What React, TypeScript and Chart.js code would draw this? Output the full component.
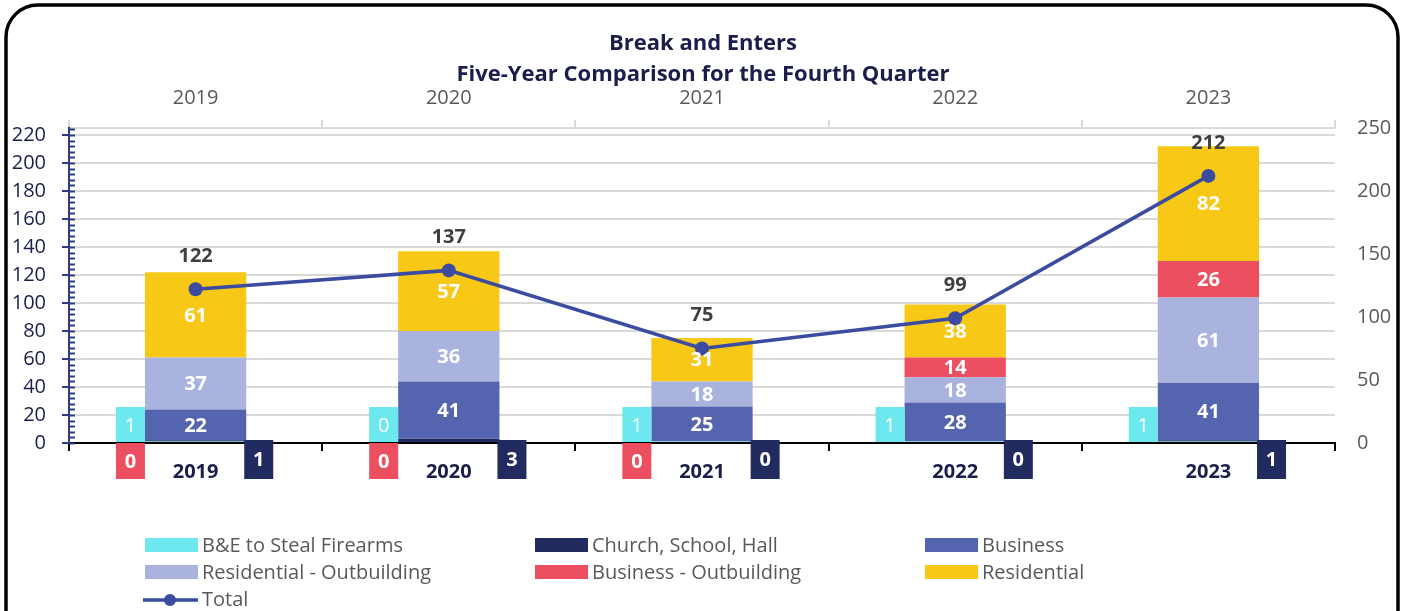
import React, { useEffect, useRef } from "react";
import { Chart, registerables } from "chart.js";

Chart.register(...registerables);

const years = ["2019", "2020", "2021", "2022", "2023"];
const firearms = [1, 0, 1, 1, 1];
const church = [1, 3, 0, 0, 1];
const business = [22, 41, 25, 28, 41];
const resOutbuilding = [37, 36, 18, 18, 61];
const busOutbuilding = [0, 0, 0, 14, 26];
const residential = [61, 57, 31, 38, 82];
const totals = [122, 137, 75, 99, 212];

const leftTicksMax = 225;
const rightTicksMax = 250;

const seriesNames = [
  "B&E to Steal Firearms",
  "Church, School, Hall",
  "Business",
  "Residential - Outbuilding",
  "Business - Outbuilding",
  "Residential",
  "Total",
];
const seriesColors = ["#6CE8EE", "#222B5F", "#5464AE", "#A9B3DE", "#EC4F5F", "#F7C815", "#3A4BA0"];

const FONT = '"Open Sans", Lato, sans-serif';
const NAVY_TEXT = "#1B1E4B";
const GRAY_TEXT = "#595959";

const overlayPlugin = {
  id: "overlay",
  afterDatasetsDraw(chart: any) {
    const ctx = chart.ctx as CanvasRenderingContext2D;
    const ca = chart.chartArea;
    const yScale = chart.scales.y;
    ctx.save();

    // left axis minor / inside ticks
    ctx.strokeStyle = "#2E3B80";
    for (let v = 0; v <= leftTicksMax; v += 4) {
      const y = Math.round(yScale.getPixelForValue(v)) + 0.5;
      ctx.lineWidth = 2;
      ctx.beginPath();
      ctx.moveTo(ca.left, y);
      ctx.lineTo(ca.left + 6, y);
      ctx.stroke();
    }

    // value labels inside bars
    ctx.textAlign = "center";
    ctx.textBaseline = "middle";
    ctx.font = `bold 20px ${FONT}`;
    ctx.fillStyle = "#FFFFFF";
    [2, 3, 4, 5].forEach((di) => {
      const meta = chart.getDatasetMeta(di);
      const data = chart.data.datasets[di].data as number[];
      meta.data.forEach((el: any, i: number) => {
        if (data[i] > 0) {
          ctx.fillText(String(data[i]), el.x, (el.y + el.base) / 2 + 1);
        }
      });
    });

    // boxed labels for small series
    const base = yScale.getPixelForValue(0);
    const barMeta = chart.getDatasetMeta(2);
    barMeta.data.forEach((el: any, i: number) => {
      const left = el.x - el.width / 2;
      const right = el.x + el.width / 2;
      // firearms (cyan) left of the bar, above the axis
      ctx.fillStyle = seriesColors[0];
      ctx.fillRect(left - 29, base - 36, 29, 35);
      ctx.fillStyle = "#FFFFFF";
      ctx.font = `20px ${FONT}`;
      ctx.fillText(String(firearms[i]), left - 14.5, base - 17);
      // business outbuilding zero: red box below axis
      if (busOutbuilding[i] === 0) {
        ctx.fillStyle = seriesColors[4];
        ctx.fillRect(left - 29, base, 29, 36);
        ctx.fillStyle = "#FFFFFF";
        ctx.font = `bold 20px ${FONT}`;
        ctx.fillText(String(busOutbuilding[i]), left - 14.5, base + 19);
      }
      // church: navy box right of the bar
      ctx.fillStyle = seriesColors[1];
      ctx.fillRect(right - 2, base - 3, 29, 39);
      ctx.fillStyle = "#FFFFFF";
      ctx.font = `bold 20px ${FONT}`;
      ctx.fillText(String(church[i]), right + 12.5, base + 17);
    });

    // totals above the line points
    const lineMeta = chart.getDatasetMeta(6);
    ctx.fillStyle = "#404040";
    ctx.font = `bold 20px ${FONT}`;
    lineMeta.data.forEach((pt: any, i: number) => {
      ctx.fillText(String(totals[i]), pt.x, pt.y - 33);
    });
    ctx.restore();
  },
  afterDraw(chart: any) {
    const ctx = chart.ctx as CanvasRenderingContext2D;
    ctx.save();
    // title
    ctx.fillStyle = NAVY_TEXT;
    ctx.textAlign = "center";
    ctx.textBaseline = "middle";
    ctx.font = `bold 22px ${FONT}`;
    ctx.fillText("Break and Enters", 703, 44);
    ctx.fillText("Five-Year Comparison for the Fourth Quarter", 703, 75);

    // legend
    const cols = [145, 535, 925];
    const rows = [545, 572, 599];
    ctx.textAlign = "left";
    ctx.font = `20px ${FONT}`;
    for (let k = 0; k < 6; k++) {
      const cx = cols[k % 3];
      const cy = rows[Math.floor(k / 3)];
      ctx.fillStyle = seriesColors[k];
      ctx.fillRect(cx, cy - 7, 53, 14);
      ctx.fillStyle = GRAY_TEXT;
      ctx.fillText(seriesNames[k], cx + 57, cy + 1);
    }
    const ty = rows[2] + 1;
    ctx.strokeStyle = seriesColors[6];
    ctx.lineWidth = 3.5;
    ctx.beginPath();
    ctx.moveTo(143, ty);
    ctx.lineTo(198, ty);
    ctx.stroke();
    ctx.fillStyle = seriesColors[6];
    ctx.beginPath();
    ctx.arc(170, ty, 6, 0, Math.PI * 2);
    ctx.fill();
    ctx.fillStyle = GRAY_TEXT;
    ctx.fillText(seriesNames[6], 202, ty);

    // frame
    ctx.strokeStyle = "#000000";
    ctx.lineWidth = 3.5;
    ctx.beginPath();
    (ctx as any).roundRect(6, 5, 1392, 660, 32);
    ctx.stroke();
    ctx.restore();
  },
};

export default function App() {
  const ref = useRef<HTMLCanvasElement>(null);
  useEffect(() => {
    if (!ref.current) return;
    const barDs = (label: string, data: number[], color: string) => ({
      type: "bar" as const,
      label,
      data,
      backgroundColor: color,
      borderWidth: 0,
      yAxisID: "y",
      xAxisID: "x",
      order: 1,
      barPercentage: 0.4,
      categoryPercentage: 1,
    });
    const chart = new Chart(ref.current, {
      type: "bar",
      data: {
        labels: years,
        datasets: [
          barDs(seriesNames[0], firearms, seriesColors[0]),
          barDs(seriesNames[1], church, seriesColors[1]),
          barDs(seriesNames[2], business, seriesColors[2]),
          barDs(seriesNames[3], resOutbuilding, seriesColors[3]),
          barDs(seriesNames[4], busOutbuilding, seriesColors[4]),
          barDs(seriesNames[5], residential, seriesColors[5]),
          {
            type: "line" as const,
            label: seriesNames[6],
            data: totals,
            borderColor: seriesColors[6],
            backgroundColor: seriesColors[6],
            borderWidth: 3.5,
            pointRadius: 7,
            pointBackgroundColor: seriesColors[6],
            pointBorderWidth: 0,
            yAxisID: "y1",
            xAxisID: "x",
            order: 0,
          } as any,
        ],
      },
      options: {
        responsive: false,
        animation: false,
        devicePixelRatio: 1,
        layout: { padding: { top: 78, left: 0, right: 0, bottom: 0 } },
        plugins: { legend: { display: false }, tooltip: { enabled: false }, title: { display: false } },
        scales: {
          x: {
            type: "category",
            position: "bottom",
            stacked: true,
            grid: { offset: true, drawOnChartArea: false, drawTicks: true, tickLength: 8, color: "#000000", lineWidth: 2 },
            border: { color: "#000000", width: 2 },
            ticks: { color: NAVY_TEXT, font: { family: FONT, size: 20, weight: "bold" }, padding: 9 },
            afterFit: (s: any) => { s.height = 168; },
          },
          x2: {
            type: "category",
            position: "top",
            labels: years,
            grid: { offset: true, drawOnChartArea: false, drawTicks: true, tickLength: 8, color: "#D9D9D9", lineWidth: 2 },
            border: { color: "#D9D9D9", width: 2 },
            ticks: { color: GRAY_TEXT, font: { family: FONT, size: 20 }, padding: 10 },
            afterFit: (s: any) => { s.height = 50; },
          },
          y: {
            type: "linear",
            position: "left",
            stacked: true,
            min: 0,
            max: leftTicksMax,
            ticks: { stepSize: 20, includeBounds: false, color: NAVY_TEXT, font: { family: FONT, size: 20 }, padding: 16 },
            grid: { color: "#D9D9D9", lineWidth: 2, tickColor: "#2E3B80", tickLength: 7, tickWidth: 2 },
            border: { color: "#2E3B80", width: 2 },
            afterFit: (s: any) => { s.width = 69; },
          },
          y1: {
            type: "linear",
            position: "right",
            min: 0,
            max: rightTicksMax,
            ticks: { stepSize: 50, color: GRAY_TEXT, font: { family: FONT, size: 20 }, padding: 22 },
            grid: { display: false, drawTicks: false },
            border: { display: false },
            afterFit: (s: any) => { s.width = 72; },
          },
        },
      } as any,
      plugins: [overlayPlugin],
    });
    return () => chart.destroy();
  }, []);
  return (
    <div style={{ position: "fixed", left: 0, top: 0, width: 1407, height: 611, background: "#FFFFFF" }}>
      <canvas ref={ref} width={1407} height={611} style={{ width: 1407, height: 611, display: "block" }} />
    </div>
  );
}
